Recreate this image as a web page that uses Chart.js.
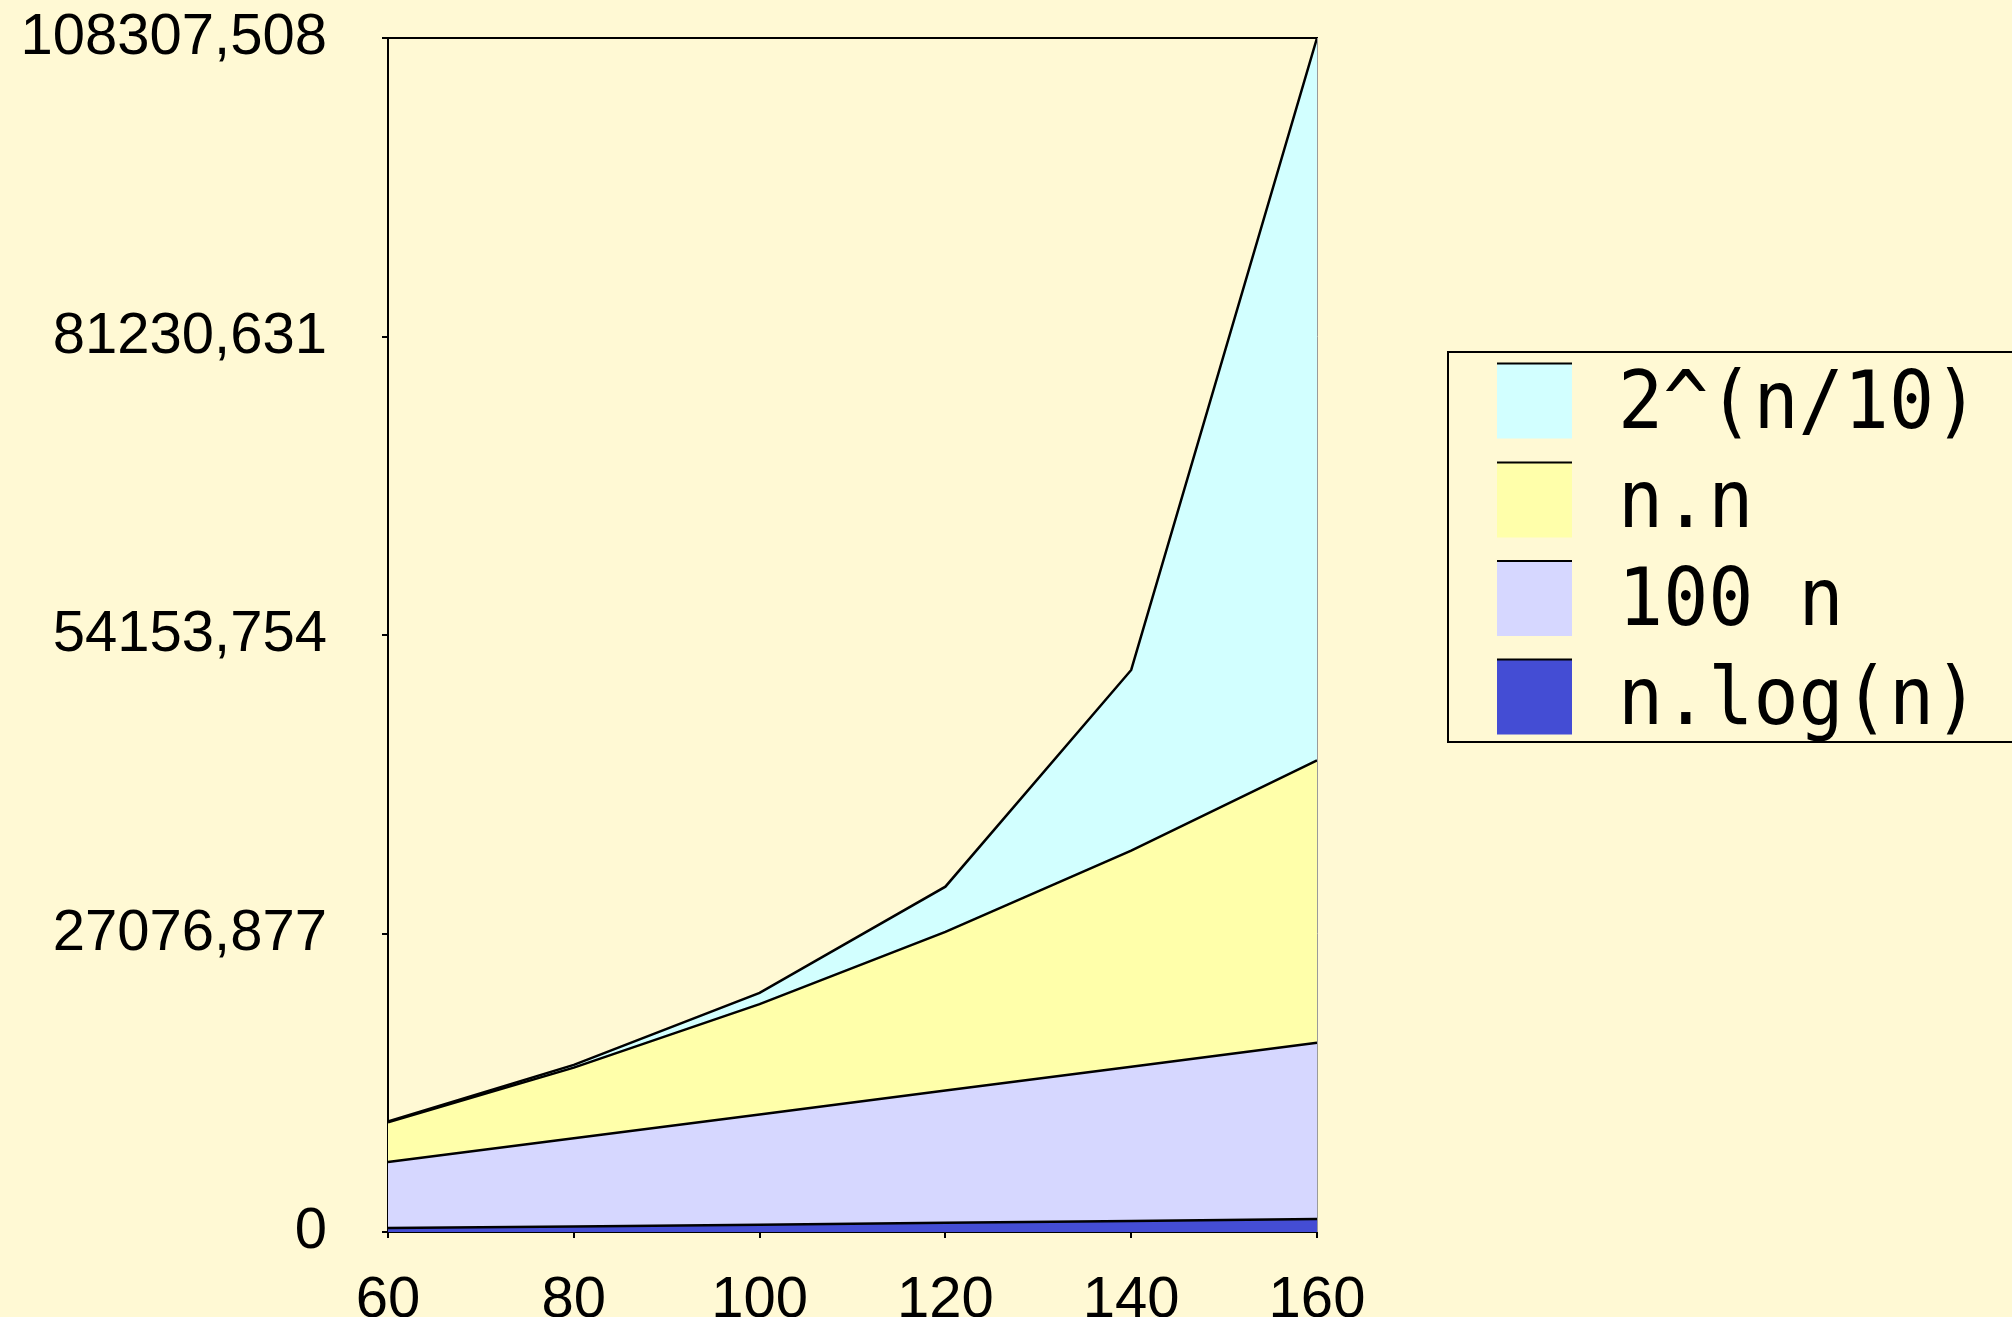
<!DOCTYPE html>
<html>
<head>
<meta charset="utf-8">
<script src="https://cdn.jsdelivr.net/npm/chart.js@4"></script>
<style>
  html, body { margin:0; padding:0; background:#FFF9D4; overflow:hidden; }
  #wrap { position:relative; width:2012px; height:1317px; }
</style>
</head>
<body>
<div id="wrap"><canvas id="c"></canvas></div>
<script>
const xLabels = ['60', '80', '100', '120', '140', '160'];
const nLogN = [354.4, 505.8, 664.4, 828.8, 998.1, 1171.5];
const hundredN = [6000, 8000, 10000, 12000, 14000, 16000];
const nSquared = [3600, 6400, 10000, 14400, 19600, 25600];
const twoPow = [64, 256, 1024, 4096, 16384, 65536];
const yTickValues = [0, 27076.877, 54153.754, 81230.631, 108307.508];
const yTickLabels = ['0', '27076,877', '54153,754', '81230,631', '108307,508'];
const seriesNames = ['n.log(n)', '100 n', 'n.n', '2^(n/10)'];
const seriesColors = ['#444DD4', '#D6D7FF', '#FFFFAA', '#D2FFFF'];

const topBorder = {
  id: 'topBorder',
  afterDraw(chart) {
    const {ctx, chartArea:a} = chart;
    ctx.save();
    ctx.strokeStyle = '#000';
    ctx.lineWidth = 2;
    ctx.beginPath();
    ctx.moveTo(a.left - 1, a.top);
    ctx.lineTo(a.right + 1, a.top);
    ctx.stroke();
    ctx.strokeStyle = '#9a9a9a';
    ctx.lineWidth = 1;
    ctx.beginPath();
    ctx.moveTo(a.right + 0.5, a.top);
    ctx.lineTo(a.right + 0.5, a.bottom);
    ctx.stroke();
    ctx.restore();
  }
};

const customLegend = {
  id: 'customLegend',
  afterDraw(chart) {
    const ctx = chart.ctx;
    ctx.save();
    ctx.strokeStyle = '#000';
    ctx.lineWidth = 2;
    ctx.strokeRect(1448, 352, 700, 390);
    const order = [3, 2, 1, 0];
    const swTop = [363.5, 462.5, 561, 659.5];
    const baselines = [427.5, 526.5, 625, 723.5];
    order.forEach((di, i) => {
      const ds = chart.data.datasets[di];
      ctx.fillStyle = ds.backgroundColor;
      ctx.fillRect(1497, swTop[i], 75, 75);
      ctx.fillStyle = '#000';
      ctx.fillRect(1497, swTop[i] - 1, 75, 2);
      ctx.save();
      ctx.translate(1618, baselines[i]);
      ctx.scale(1, 1.07);
      ctx.font = '75px "DejaVu Sans Mono"';
      ctx.textBaseline = 'alphabetic';
      ctx.textAlign = 'left';
      ctx.fillStyle = '#000';
      ctx.fillText(ds.label, 0, 0);
      ctx.restore();
    });
    ctx.restore();
  }
};

const mk = (i, data, fill) => ({
  label: seriesNames[i],
  data: data,
  backgroundColor: seriesColors[i],
  borderColor: '#000',
  borderWidth: 2.5,
  pointRadius: 0,
  tension: 0,
  fill: fill
});

new Chart(document.getElementById('c'), {
  type: 'line',
  data: {
    labels: xLabels,
    datasets: [
      mk(0, nLogN, 'origin'),
      mk(1, hundredN, '-1'),
      mk(2, nSquared, '-1'),
      mk(3, twoPow, '-1')
    ]
  },
  options: {
    responsive: true,
    maintainAspectRatio: false,
    animation: false,
    layout: { padding: { top: 38, right: 695, bottom: 0, left: 0 } },
    plugins: { legend: { display: false }, tooltip: { enabled: false } },
    scales: {
      x: {
        type: 'category',
        offset: false,
        grid: { drawOnChartArea: false, drawTicks: true, tickLength: 6, color: '#000', lineWidth: 2 },
        border: { display: true, color: '#000', width: 2 },
        ticks: { font: { family: '"Liberation Sans", Arial, sans-serif', size: 58 }, color: '#000', padding: 28, maxRotation: 0, autoSkip: false },
        afterFit: s => { s.height = 85; s.paddingLeft = 0; s.paddingRight = 0; }
      },
      y: {
        stacked: true,
        min: 0,
        max: 108307.508,
        afterBuildTicks: s => { s.ticks = yTickValues.map(v => ({ value: v })); },
        grid: { drawOnChartArea: false, drawTicks: true, tickLength: 6, color: '#000', lineWidth: 2 },
        border: { display: true, color: '#000', width: 2 },
        ticks: {
          font: { family: '"Liberation Sans", Arial, sans-serif', size: 58 },
          color: '#000',
          padding: 55,
          callback: (v, i) => yTickLabels[i]
        },
        afterFit: s => { s.width = 388; s.paddingTop = 0; s.paddingBottom = 0; }
      }
    }
  },
  plugins: [topBorder, customLegend]
});
</script>
</body>
</html>
